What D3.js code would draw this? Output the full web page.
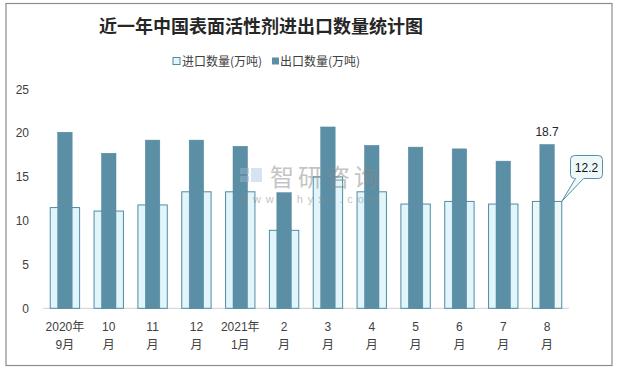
<!DOCTYPE html>
<html>
<head>
<meta charset="utf-8">
<script src="https://cdn.jsdelivr.net/npm/d3@7/dist/d3.min.js"></script>
<style>
html,body{margin:0;padding:0;background:#fff;}
svg{display:block;}
text{font-family:"Liberation Sans","Noto Sans CJK SC",sans-serif;}
</style>
</head>
<body>
<svg id="chart" width="619" height="372"></svg>
<script>
const categories = ["2020年\n9月","10\n月","11\n月","12\n月","2021年\n1月","2\n月","3\n月","4\n月","5\n月","6\n月","7\n月","8\n月"];
const importValues = [11.5, 11.1, 11.8, 13.3, 13.3, 8.9, 15.0, 13.3, 11.9, 12.2, 11.9, 12.2];
const exportValues = [20.1, 17.7, 19.2, 19.2, 18.5, 13.2, 20.7, 18.6, 18.4, 18.2, 16.8, 18.7];
const yTicks = [0, 5, 10, 15, 20, 25];
const seriesNames = ["进口数量(万吨)", "出口数量(万吨)"];
const title = "近一年中国表面活性剂进出口数量统计图";

(function () {
const svg = d3.select("#chart");
const pL = 43, pR = 569, pT = 89.3, pB = 308.3;

// frame
svg.append("rect").attr("x", 6).attr("y", 3.5).attr("width", 606).attr("height", 362)
  .attr("fill", "#fff").attr("stroke", "#8c8c8c").attr("stroke-width", 1.2);

// title
svg.append("text").attr("x", 261).attr("y", 33).attr("text-anchor", "middle")
  .style("font-family", "'Noto Sans CJK SC',serif").style("font-weight", "bold")
  .style("font-size", "18px").attr("fill", "#262626").text(title);

const x = d3.scaleBand().domain(categories).range([pL, pR]).padding(0);
const y = d3.scaleLinear().domain([0, 25]).range([pB, pT]);
const bw = x.bandwidth();

// baseline
svg.append("line").attr("x1", pL).attr("x2", pR).attr("y1", pB).attr("y2", pB)
  .attr("stroke", "#d9d9d9").attr("stroke-width", 1.2);

// import bars
svg.append("g").selectAll("rect").data(importValues).join("rect")
  .attr("x", (d, i) => x(categories[i]) + bw * 0.165)
  .attr("width", bw * 0.67)
  .attr("y", d => y(d))
  .attr("height", d => y(0) - y(d))
  .attr("fill", (d, i) => i === importValues.length - 1 ? "#ecf8f7" : "#e1f5fb")
  .attr("stroke", "#4f8ca3").attr("stroke-width", 1);

// export bars
svg.append("g").selectAll("rect").data(exportValues).join("rect")
  .attr("x", (d, i) => x(categories[i]) + bw * 0.5 - bw * 0.165)
  .attr("width", bw * 0.33)
  .attr("y", d => y(d))
  .attr("height", d => y(0) - y(d))
  .attr("fill", "#5b8fa6")
  .attr("stroke", "#52869d").attr("stroke-width", 0.5);

// watermark (on top, translucent)
const wm = svg.append("g").attr("opacity", 0.5);
wm.append("rect").attr("x", 240).attr("y", 168).attr("width", 9).attr("height", 6).attr("fill", "#98b2cc");
wm.append("rect").attr("x", 240).attr("y", 176).attr("width", 9).attr("height", 6).attr("fill", "#98b2cc");
wm.append("rect").attr("x", 251).attr("y", 168).attr("width", 11).attr("height", 14).attr("fill", "#aacbe6");
wm.append("text").attr("x", 270).attr("y", 186).style("font-family", "'Noto Sans CJK SC'")
  .style("font-size", "24px").attr("fill", "#8a8a8a").attr("textLength", 108).text("智研咨询");
wm.append("text").attr("x", 240).attr("y", 203).style("font-size", "11px").attr("fill", "#8a8a8a")
  .attr("textLength", 138).text("www.chyxx.com");

// y axis
const yAxis = svg.append("g").attr("transform", "translate(33,0)")
  .call(d3.axisLeft(y).tickValues(yTicks).tickSize(0).tickPadding(4));
yAxis.select(".domain").remove();
yAxis.selectAll("text").style("font-size", "12px").attr("fill", "#404040")
  .style("font-family", "'Liberation Sans',sans-serif");

// x labels
const xl = svg.append("g");
categories.forEach((c, i) => {
  const parts = c.split("\n");
  const t = xl.append("text").attr("text-anchor", "middle")
    .style("font-size", "12px").attr("fill", "#404040")
    .style("font-family", "'Liberation Sans','Noto Sans CJK SC',sans-serif");
  parts.forEach((p, j) => {
    t.append("tspan").attr("x", x(c) + bw / 2).attr("y", 330.5 + j * 18).text(p);
  });
});

// data label for last export
const li = exportValues.length - 1;
svg.append("text").attr("x", x(categories[li]) + bw / 2).attr("y", 135.5)
  .attr("text-anchor", "middle").style("font-size", "12px").attr("fill", "#262626")
  .text(exportValues[li].toFixed(1));

// callout for last import
const tipX = x(categories[li]) + bw * 0.835, tipY = y(importValues[li]);
const bx = 570.5, by = 155.5, bwid = 32, bh = 23;
svg.append("path")
  .attr("d", `M${bx+4},${by} H${bx+bwid-4} Q${bx+bwid},${by} ${bx+bwid},${by+4} V${by+bh-4} Q${bx+bwid},${by+bh} ${bx+bwid-4},${by+bh} H${bx+13} L${tipX},${tipY} L${bx+5},${by+bh} H${bx+4} Q${bx},${by+bh} ${bx},${by+bh-4} V${by+4} Q${bx},${by} ${bx+4},${by} Z`)
  .attr("fill", "#eef8f9").attr("stroke", "#5b8fa6").attr("stroke-width", 1);
svg.append("text").attr("x", bx + bwid / 2).attr("y", by + 16).attr("text-anchor", "middle")
  .style("font-size", "12px").attr("fill", "#111").text(importValues[li].toFixed(1));

// legend
const lg = svg.append("g");
lg.append("rect").attr("x", 173).attr("y", 57.5).attr("width", 7).attr("height", 7)
  .attr("fill", "#e1f5fb").attr("stroke", "#4f8ca3").attr("stroke-width", 1);
lg.append("text").attr("x", 182).attr("y", 65.5).style("font-size", "12px")
  .style("font-family", "'Noto Sans CJK SC',sans-serif").attr("fill", "#404040").text(seriesNames[0]);
lg.append("rect").attr("x", 272).attr("y", 57.5).attr("width", 7).attr("height", 7)
  .attr("fill", "#5b8fa6");
lg.append("text").attr("x", 280).attr("y", 65.5).style("font-size", "12px")
  .style("font-family", "'Noto Sans CJK SC',sans-serif").attr("fill", "#404040").text(seriesNames[1]);
})();
</script>
</body>
</html>
